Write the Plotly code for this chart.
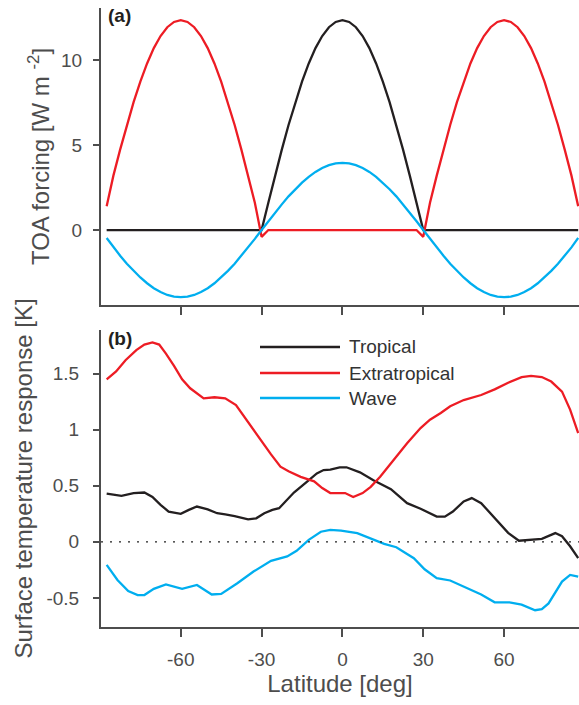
import plotly.graph_objects as go

# ---------------- data ----------------
lat_forcing = [-87.5 + 2.5 * i for i in range(71)]

forcing_tropical = [0]*23 + [0, 1.61, 3.20, 4.73, 6.18, 7.52, 8.73, 9.80, 10.70, 11.41, 11.93, 12.24,
                    12.35,
                    12.24, 11.93, 11.41, 10.70, 9.80, 8.73, 7.52, 6.18, 4.73, 3.20, 1.61, 0] + [0]*23

forcing_extratropical = [1.40, 3.20, 4.73, 6.18, 7.52, 8.73, 9.80, 10.70, 11.41, 11.93, 12.24, 12.35,
                         12.24, 11.93, 11.41, 10.70, 9.80, 8.73, 7.52, 6.18, 4.73, 3.20, 1.61, -0.40] + \
                        [0]*23 + \
                        [-0.40, 1.61, 3.20, 4.73, 6.18, 7.52, 8.73, 9.80, 10.70, 11.41, 11.93, 12.24, 12.35,
                         12.24, 11.93, 11.41, 10.70, 9.80, 8.73, 7.52, 6.18, 4.73, 3.20, 1.40]

forcing_wave = [-0.47, -1.02, -1.51, -1.98, -2.40, -2.79, -3.13, -3.42, -3.65, -3.82, -3.92, -3.95,
                -3.92, -3.82, -3.65, -3.42, -3.13, -2.79, -2.40, -1.98, -1.51, -1.02, -0.52, 0.0,
                0.52, 1.02, 1.51, 1.98, 2.40, 2.79, 3.13, 3.42, 3.65, 3.82, 3.92,
                3.95,
                3.92, 3.82, 3.65, 3.42, 3.13, 2.79, 2.40, 1.98, 1.51, 1.02, 0.52,
                0.0, -0.52, -1.02, -1.51, -1.98, -2.40, -2.79, -3.13, -3.42, -3.65, -3.82, -3.92,
                -3.95, -3.92, -3.82, -3.65, -3.42, -3.13, -2.79, -2.40, -1.98, -1.51, -1.02, -0.47]

lat_tropical = [-87.5, -82, -77.5, -73.5, -70.5, -67.5, -64.5, -60, -57, -54, -50, -46.5, -43.5, -40,
                -35, -32, -29, -26, -23.5, -21, -18, -13, -9.5, -7, -4.5, -1, 1.5, 6.5, 11.5, 18, 24,
                29, 35, 38, 41, 45, 48, 51.5, 56.5, 61.5, 65.5, 69.5, 74, 79, 81.5, 84.5, 87.5]
temp_tropical = [0.43, 0.41, 0.435, 0.44, 0.40, 0.33, 0.27, 0.25, 0.285, 0.315, 0.29, 0.255, 0.245,
                 0.23, 0.20, 0.21, 0.255, 0.285, 0.30, 0.36, 0.44, 0.54, 0.61, 0.64, 0.645, 0.665,
                 0.665, 0.62, 0.55, 0.47, 0.345, 0.295, 0.225, 0.225, 0.27, 0.36, 0.39, 0.345, 0.21,
                 0.08, 0.01, 0.02, 0.027, 0.078, 0.05, -0.04, -0.145]

lat_extratropical = [-87.5, -84, -80.5, -76.5, -73.5, -70.5, -68, -65.5, -62.5, -59.5, -56.5, -51.5,
                     -47.5, -43.5, -39.5, -36, -31.5, -26.5, -23, -20, -15.5, -10.5, -7.5, -4.5, 1,
                     4, 7.5, 10.5, 14, 19, 24, 29, 32.5, 36.5, 40, 45, 51.5, 56.5, 61.5, 66.5, 70,
                     74, 77.5, 81.5, 84.5, 87.5]
temp_extratropical = [1.45, 1.52, 1.62, 1.71, 1.76, 1.78, 1.76, 1.68, 1.57, 1.45, 1.37, 1.28, 1.29,
                      1.28, 1.22, 1.10, 0.94, 0.78, 0.67, 0.63, 0.58, 0.54, 0.48, 0.435, 0.435, 0.40,
                      0.435, 0.49, 0.58, 0.73, 0.88, 1.015, 1.09, 1.15, 1.21, 1.265, 1.31, 1.36,
                      1.42, 1.47, 1.48, 1.47, 1.43, 1.34, 1.18, 0.97]

lat_wave = [-87.5, -83.5, -79.5, -76, -73.5, -70, -65.5, -59.5, -54, -48.5, -45, -39, -33, -26.5,
            -20.5, -17, -12.5, -8, -4.5, -0.5, 5.5, 11.5, 15.5, 20, 26.5, 30.5, 35, 40, 45, 47,
            51.5, 56.5, 62, 66.5, 71.5, 74, 76.5, 81.5, 84.5, 87.5]
temp_wave = [-0.205, -0.34, -0.44, -0.475, -0.475, -0.42, -0.38, -0.42, -0.385, -0.47, -0.465, -0.37,
             -0.265, -0.17, -0.13, -0.08, 0.018, 0.09, 0.107, 0.10, 0.078, 0.018, -0.018, -0.048,
             -0.146, -0.245, -0.325, -0.345, -0.40, -0.415, -0.47, -0.54, -0.54, -0.56, -0.61,
             -0.60, -0.55, -0.355, -0.295, -0.31]

series_names = ["Tropical", "Extratropical", "Wave"]
series_colors = ["#231f20", "#ed1c24", "#00aeef"]

x_ticks = [-60, -30, 0, 30, 60]
x_ticktext = ["-60", "-30", "0", "30", "60"]
y1_ticks = [0, 5, 10]
y1_ticktext = ["0", "5", "10"]
y2_ticks = [-0.5, 0, 0.5, 1, 1.5]
y2_ticktext = ["-0.5", "0", "0.5", "1", "1.5"]

# ---------------- figure ----------------
W, H = 579, 705
FONT = "Liberation Sans, Arial, Helvetica, sans-serif"
AX = "#4d4d4d"
LW = 2.3
TITLE_SIZE = 24

fig = go.Figure()

top = [forcing_tropical, forcing_extratropical, forcing_wave]
for name, col, ys in zip(series_names, series_colors, top):
    fig.add_trace(go.Scatter(x=lat_forcing, y=ys, mode="lines", name=name,
                             line=dict(color=col, width=LW), showlegend=False,
                             xaxis="x", yaxis="y"))

bottom = [(lat_tropical, temp_tropical), (lat_extratropical, temp_extratropical),
          (lat_wave, temp_wave)]
for name, col, (xs, ys) in zip(series_names, series_colors, bottom):
    fig.add_trace(go.Scatter(x=xs, y=ys, mode="lines", name=name,
                             line=dict(color=col, width=LW), showlegend=False,
                             xaxis="x2", yaxis="y2"))


def px_x(p):
    return p / W


def px_y(p):
    return 1 - p / H


common_axis = dict(showline=True, linecolor=AX, linewidth=2, ticks="outside",
                   tickcolor=AX, tickwidth=2, showgrid=False, zeroline=False,
                   tickfont=dict(family=FONT, size=19, color=AX))

xr = [-89.6, 87.8]
xdom = [px_x(101), 1.0]

fig.update_layout(
    width=W, height=H,
    margin=dict(l=0, r=0, t=0, b=0),
    paper_bgcolor="white", plot_bgcolor="white",
    font=dict(family=FONT, color=AX),
    xaxis=dict(domain=xdom, range=xr, anchor="y", tickvals=x_ticks, ticktext=x_ticktext,
               showticklabels=False, ticklen=8, **common_axis),
    yaxis=dict(domain=[px_y(305), px_y(8)], range=[-4.41, 13.06], anchor="x",
               tickvals=y1_ticks, ticktext=y1_ticktext, ticklen=6, ticklabelstandoff=7,
               title=dict(text="TOA forcing [W m <sup>-2</sup>]",
                          font=dict(family=FONT, size=TITLE_SIZE, color=AX), standoff=5),
               **common_axis),
    xaxis2=dict(domain=xdom, range=xr, anchor="y2", tickvals=x_ticks, ticktext=x_ticktext,
                ticklen=8, ticklabelstandoff=6,
                title=dict(text="Latitude [deg]", font=dict(family=FONT, size=TITLE_SIZE, color=AX),
                           standoff=3),
                **common_axis),
    yaxis2=dict(domain=[px_y(627), px_y(330)], range=[-0.76, 1.89], anchor="x2",
                tickvals=y2_ticks, ticktext=y2_ticktext, ticklen=6, ticklabelstandoff=10,
                title=dict(text="Surface temperature response [K]",
                           font=dict(family=FONT, size=TITLE_SIZE, color=AX), standoff=7),
                **common_axis),
)

# zero reference line in panel (b)
fig.add_shape(type="line", xref="x2 domain", yref="y2", x0=0, x1=1, y0=0, y1=0,
              line=dict(color="#222222", width=1.3, dash="2px,7px"))

# manual legend
leg_y = [347, 373, 398]
for name, col, yy in zip(series_names, series_colors, leg_y):
    fig.add_shape(type="line", xref="paper", yref="paper", x0=px_x(260), x1=px_x(340),
                  y0=px_y(yy), y1=px_y(yy), line=dict(color=col, width=LW))
    fig.add_annotation(x=px_x(347), y=px_y(yy), xref="paper", yref="paper", text=name,
                       showarrow=False, xanchor="left", yanchor="middle",
                       font=dict(family=FONT, size=19, color="#333333"))

# panel labels
for lab, yy in [("<b>(a)</b>", 15), ("<b>(b)</b>", 338)]:
    fig.add_annotation(x=px_x(106), y=px_y(yy), xref="paper", yref="paper", text=lab,
                       showarrow=False, xanchor="left", yanchor="middle",
                       font=dict(family=FONT, size=19, color="#231f20"))

fig.write_html("out.html")
